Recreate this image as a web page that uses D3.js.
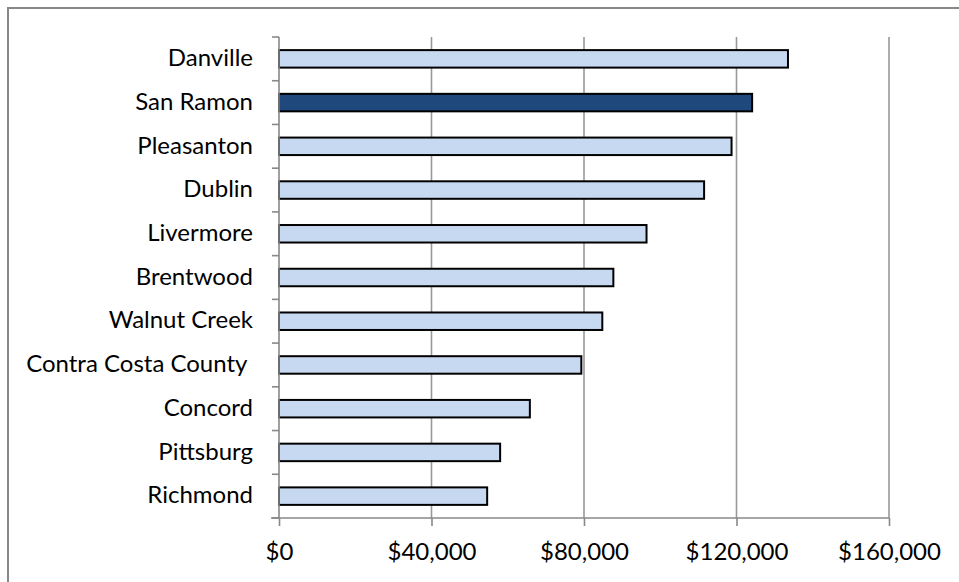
<!DOCTYPE html>
<html>
<head>
<meta charset="utf-8">
<script src="https://cdn.jsdelivr.net/npm/d3@7"></script>
<style>
html,body{margin:0;padding:0;background:#fff;}
svg{display:block;}
text{font-family:Lato,"Noto Sans",sans-serif;fill:#000;}
</style>
</head>
<body>
<svg id="chart" width="959" height="582"></svg>
<script>
const categories = ["Danville","San Ramon","Pleasanton","Dublin","Livermore","Brentwood","Walnut Creek","Contra Costa County ","Concord","Pittsburg","Richmond"];
const values = [133500,124100,118700,111500,96400,87700,84800,79300,65800,58000,54600];
const highlight = ["San Ramon"];
const xTicks = [0,40000,80000,120000,160000];
const xTickLabels = ["$0","$40,000","$80,000","$120,000","$160,000"];

const svg = d3.select("#chart");
const margin = {left:279, top:37, right:70, bottom:64};
const W = 959, H = 582;

// outer frame (extends beyond the viewport on right/bottom)
svg.append("rect").attr("x",8).attr("y",8).attr("width",1000).attr("height",1000)
  .attr("fill","none").attr("stroke","#888").attr("stroke-width",2);

const x = d3.scaleLinear().domain([0,160000]).range([margin.left, W - margin.right]);
const y = d3.scaleBand().domain(categories).range([margin.top, H - margin.bottom])
  .paddingInner(0.6).paddingOuter(0.3);
const yb = d3.scaleBand().domain(categories).range([margin.top, H - margin.bottom]);

const y0 = margin.top, y1 = H - margin.bottom;

// gridlines
svg.append("g").selectAll("line").data(xTicks.slice(1)).join("line")
  .attr("x1",d=>x(d)).attr("x2",d=>x(d)).attr("y1",y0).attr("y2",y1)
  .attr("stroke","#999").attr("stroke-width",1.6);

// bars
svg.append("g").selectAll("rect").data(categories).join("rect")
  .attr("x",x(0))
  .attr("y",d=>y(d))
  .attr("width",(d,i)=>x(values[i])-x(0))
  .attr("height",y.bandwidth())
  .attr("fill",d=>highlight.includes(d)?"#1F497D":"#C6D9F1")
  .attr("stroke","#000").attr("stroke-width",2);

// y axis line & boundary ticks
const bounds = categories.map(c=>yb(c)).concat([y1]);
svg.append("line").attr("x1",x(0)).attr("x2",x(0)).attr("y1",y0).attr("y2",y1)
  .attr("stroke","#888").attr("stroke-width",1.6);
svg.append("g").selectAll("line").data(bounds).join("line")
  .attr("x1",x(0)-7).attr("x2",x(0)).attr("y1",d=>d).attr("y2",d=>d)
  .attr("stroke","#888").attr("stroke-width",1.6);

// y labels
const yAxis = d3.axisLeft(yb).tickSize(0).tickPadding(26);
const gy = svg.append("g").attr("transform",`translate(${x(0)},0)`).call(yAxis);
gy.select(".domain").remove();
gy.selectAll("text").attr("font-size",24).attr("dy","0.3em")
  .style("white-space","pre").style("font-family","Lato, 'Noto Sans', sans-serif");

// x axis
const xAxis = d3.axisBottom(x).tickValues(xTicks).tickFormat((d,i)=>xTickLabels[i])
  .tickSize(8).tickSizeOuter(0).tickPadding(17);
const gx = svg.append("g").attr("transform",`translate(0,${y1})`).call(xAxis);
gx.select(".domain").attr("stroke","#888").attr("stroke-width",1.6)
  .attr("d",`M${x(0)-8},0H${x(160000)}`);
gx.selectAll(".tick line").attr("stroke","#888").attr("stroke-width",1.6);
gx.selectAll(".tick text").attr("font-size",24).style("font-family","Lato, 'Noto Sans', sans-serif");
</script>
</body>
</html>
